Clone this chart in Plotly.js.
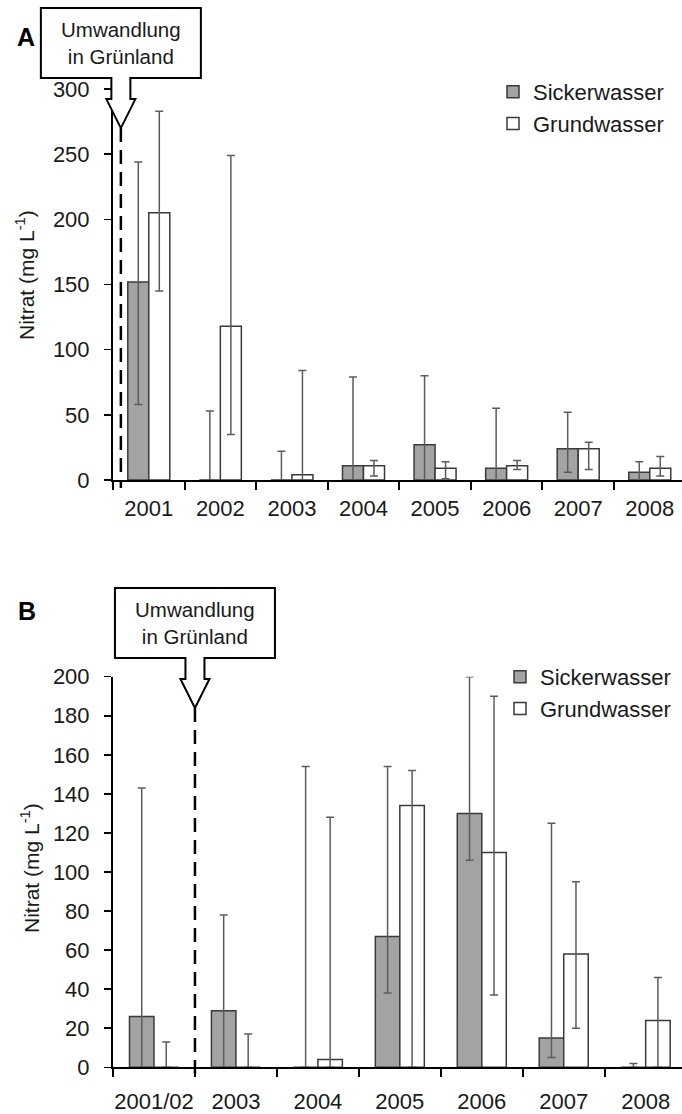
<!DOCTYPE html>
<html><head><meta charset="utf-8">
<script src="https://cdn.plot.ly/plotly-3.0.1.min.js"></script>
<style>html,body{margin:0;padding:0;background:#fff;} #chart{width:682px;height:1114px;}</style>
</head><body><div id="chart"></div>
<script>
// ---------- DATA ----------
// Panel A
const yearsA = ['2001','2002','2003','2004','2005','2006','2007','2008'];
const sickerA    = [152,   0,  0, 11, 27,  9, 24,  6];
const sickerA_hi = [244,  53, 22, 79, 80, 55, 52, 14];
const sickerA_lo = [ 58,   0,  0,  0,  0,  0,  6,  0];
const grundA     = [205, 118,  4, 11,  9, 11, 24,  9];
const grundA_hi  = [283, 249, 84, 15, 14, 15, 29, 18];
const grundA_lo  = [145,  35,  0,  3,  1,  8,  8,  3];
const yTicksA = [0, 50, 100, 150, 200, 250, 300];

// Panel B
const yearsB = ['2001/02','2003','2004','2005','2006','2007','2008'];
const sickerB    = [ 26, 29,   0,  67, 130,  15, 0];
const sickerB_hi = [143, 78, 154, 154, 200, 125, 2];
const sickerB_lo = [  0,  0,   0,  38, 106,   5, 0];
const grundB     = [  0,  0,   4, 134, 110,  58, 24];
const grundB_hi  = [ 13, 17, 128, 152, 190,  95, 46];
const grundB_lo  = [  0,  0,   0,   0,  37,  20,  0];
const yTicksB = [0, 20, 40, 60, 80, 100, 120, 140, 160, 180, 200];

const seriesNames = ['Sickerwasser', 'Grundwasser'];
const panelLabels = ['A', 'B'];
const calloutText = 'Umwandlung<br>in Grünland';
const yTitleText = 'Nitrat (mg L<sup>-1</sup>)';

// ---------- GEOMETRY / STYLE ----------
const W = 682, H = 1114, L = 113, PW = W - L;
const FONT = 'Liberation Sans, Arial, sans-serif';
const TXT = '#1a1a1a';
const domA = [1 - 480 / H, 1 - 89 / H];
const domB = [1 - 1067.3 / H, 1 - 676.7 / H];
const xRangeA = [-0.5, -0.5 + PW / 71.57];
const xRangeB = [-0.5, -0.5 + PW / 81.95];
const yRangeA = [0, 300], yRangeB = [0, 200];
const barWA = 21 / 71.57, barWB = 24.5 / 81.95;
// conversion marker (category position, tip value)
const convA = {x: -0.39, y: 270};
const convB = {x: 0.5, y: 184};

const xpx = (r, c) => L + (c - r[0]) / (r[1] - r[0]) * PW;
const ypx = (d, r, v) => H * (1 - d[0]) - (v - r[0]) / (r[1] - r[0]) * H * (d[1] - d[0]);
const px2x = p => (p - L) / PW;
const px2y = p => 1 - p / H;

function barTrace(x, y, hi, lo, name, fill, xa, ya, legend, offset, width) {
  return {
    type: 'bar', x: x, y: y, name: name, xaxis: xa, yaxis: ya, legend: legend,
    offset: offset, width: width, showlegend: true,
    marker: {color: fill, line: {color: '#3a3a3a', width: 1.5}},
    error_y: {
      type: 'data', symmetric: false,
      array: y.map((v, i) => hi[i] - v),
      arrayminus: y.map((v, i) => v - lo[i]),
      color: '#5c5c5c', thickness: 1.5, width: 4
    }
  };
}

const SICK_FILL = '#a3a3a3', GRUND_FILL = '#ffffff';
const data = [
  barTrace(yearsA, sickerA, sickerA_hi, sickerA_lo, seriesNames[0], SICK_FILL, 'x', 'y', 'legend', -barWA, barWA),
  barTrace(yearsA, grundA, grundA_hi, grundA_lo, seriesNames[1], GRUND_FILL, 'x', 'y', 'legend', 0, barWA),
  barTrace(yearsB, sickerB, sickerB_hi, sickerB_lo, seriesNames[0], SICK_FILL, 'x2', 'y2', 'legend2', -barWB, barWB),
  barTrace(yearsB, grundB, grundB_hi, grundB_lo, seriesNames[1], GRUND_FILL, 'x2', 'y2', 'legend2', 0, barWB)
];

function xAxis(range, anchor, standoff) {
  return {
    type: 'category', range: range, domain: [0, 1], anchor: anchor,
    showline: true, linecolor: '#000', linewidth: 2,
    ticks: 'outside', tickson: 'boundaries', ticklen: 8, tickwidth: 2, tickcolor: '#000',
    showgrid: false, zeroline: false, fixedrange: true, tickangle: 0,
    tickfont: {family: FONT, size: 22, color: TXT}, ticklabelstandoff: standoff
  };
}
function yAxis(range, domain, ticks, anchor) {
  return {
    range: range, domain: domain, anchor: anchor, tickvals: ticks,
    showline: true, linecolor: '#000', linewidth: 2,
    ticks: 'outside', ticklen: 7, tickwidth: 1.5, tickcolor: '#000',
    showgrid: false, zeroline: false, fixedrange: true,
    tickfont: {family: FONT, size: 22, color: TXT}, ticklabelstandoff: 10
  };
}

function callout(r, d, yr, conv) {
  const tx = xpx(r, conv.x), ty = ypx(d, yr, conv.y);
  const pts = [[-80,-120],[80,-120],[80,-50],[9.5,-50],[9.5,-29],[14.5,-29],[0,0],
               [-14.5,-29],[-9.5,-29],[-9.5,-50],[-80,-50]];
  const path = pts.map((p, i) => (i ? 'L' : 'M') + px2x(tx + p[0]).toFixed(5) + ',' + px2y(ty + p[1]).toFixed(5)).join(' ') + ' Z';
  const base = ypx(d, yr, 0);
  return {
    shapes: [
      {type: 'line', xref: 'paper', yref: 'paper', x0: px2x(tx), x1: px2x(tx), y0: px2y(ty), y1: px2y(base + 8),
       line: {color: '#000', width: 2.5, dash: '14px,8px'}, layer: 'above'},
      {type: 'path', xref: 'paper', yref: 'paper', path: path, fillcolor: '#fff',
       line: {color: '#000', width: 2}, layer: 'above'}
    ],
    ann: {xref: 'paper', yref: 'paper', x: px2x(tx), y: px2y(ty - 85), xanchor: 'center', yanchor: 'middle',
          text: calloutText, showarrow: false, font: {family: FONT, size: 20.5, color: TXT}}
  };
}
const cA = callout(xRangeA, domA, yRangeA, convA);
const cB = callout(xRangeB, domB, yRangeB, convB);

const layout = {
  width: W, height: H, margin: {l: L, r: 0, t: 0, b: 0},
  paper_bgcolor: '#fff', plot_bgcolor: 'rgba(0,0,0,0)',
  showlegend: true, barmode: 'overlay', hovermode: false,
  font: {family: FONT, color: TXT},
  xaxis: xAxis(xRangeA, 'y', 8), yaxis: yAxis(yRangeA, domA, yTicksA, 'x'),
  xaxis2: xAxis(xRangeB, 'y2', 13), yaxis2: yAxis(yRangeB, domB, yTicksB, 'x2'),
  legend: {x: px2x(493), y: px2y(71), xanchor: 'left', yanchor: 'top', bgcolor: 'rgba(0,0,0,0)',
           font: {family: FONT, size: 22, color: TXT}, itemwidth: 30, tracegroupgap: 0},
  legend2: {x: px2x(500), y: px2y(656), xanchor: 'left', yanchor: 'top', bgcolor: 'rgba(0,0,0,0)',
           font: {family: FONT, size: 22, color: TXT}, itemwidth: 30, tracegroupgap: 0},
  shapes: [...cA.shapes, ...cB.shapes],
  annotations: [
    cA.ann, cB.ann,
    {xref: 'paper', yref: 'paper', x: px2x(26), y: px2y(37), text: '<b>' + panelLabels[0] + '</b>', showarrow: false,
     xanchor: 'center', yanchor: 'middle', font: {family: FONT, size: 25, color: '#000'}},
    {xref: 'paper', yref: 'paper', x: px2x(27), y: px2y(611), text: '<b>' + panelLabels[1] + '</b>', showarrow: false,
     xanchor: 'center', yanchor: 'middle', font: {family: FONT, size: 25, color: '#000'}},
    {xref: 'paper', yref: 'paper', x: px2x(25), y: px2y(275), text: yTitleText, textangle: -90, showarrow: false,
     xanchor: 'center', yanchor: 'middle', font: {family: FONT, size: 21, color: TXT}},
    {xref: 'paper', yref: 'paper', x: px2x(30), y: px2y(868), text: yTitleText, textangle: -90, showarrow: false,
     xanchor: 'center', yanchor: 'middle', font: {family: FONT, size: 21, color: TXT}}
  ]
};

Plotly.newPlot('chart', data, layout, {staticPlot: true, displayModeBar: false});
</script>
</body></html>
